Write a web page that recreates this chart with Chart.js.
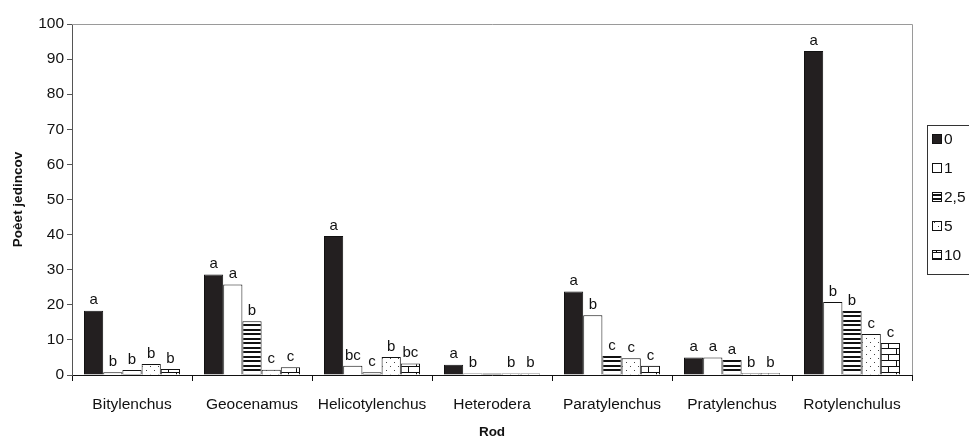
<!DOCTYPE html>
<html>
<head>
<meta charset="utf-8">
<script src="https://cdn.jsdelivr.net/npm/chart.js@4/dist/chart.umd.min.js"></script>
<style>
body{margin:0;background:#fff;}
canvas{display:block;}
</style>
</head>
<body>
<canvas id="c" width="969" height="440"></canvas>
<script>
// data
let categories = ['Bitylenchus','Geocenamus','Helicotylenchus','Heterodera','Paratylenchus','Pratylenchus','Rotylenchulus'];
let seriesNames = ['0','1','2,5','5','10'];
let s0   = [18.3, 28.6, 39.6, 2.9, 23.8, 5.0, 92.3];
let s1   = [0.8, 25.8, 2.6, 0.4, 17.0, 5.0, 20.8];
let s25  = [1.4, 15.3, 0.8, 0.4, 5.4, 4.3, 18.2];
let s5   = [3.1, 1.5, 5.1, 0.4, 4.8, 0.5, 11.7];
let s10  = [1.7, 2.2, 3.3, 0.4, 2.6, 0.5, 9.1];
let l0   = ['a','a','a','a','a','a','a'];
let l1   = ['b','a','bc','b','b','a','b'];
let l25  = ['b','b','c','','c','a','b'];
let l5   = ['b','c','b','b','c','b','c'];
let l10  = ['b','c','bc','b','c','b','c'];
let yTicks = [0,10,20,30,40,50,60,70,80,90,100];

function makePattern(w, h, draw){
    let cv = document.createElement('canvas');
    cv.width = w; cv.height = h;
    let g = cv.getContext('2d');
    g.fillStyle = '#fff';
    g.fillRect(0,0,w,h);
    g.fillStyle = '#111';
    draw(g);
    return document.getElementById('c').getContext('2d').createPattern(cv,'repeat');
}

let solid = '#231f20';
let white = '#ffffff';
let stripes = makePattern(4, 9, function(g){
    g.fillRect(0,0,4,2);
    g.fillRect(0,5,4,2);
});
let dots = makePattern(8, 8, function(g){
    g.fillStyle = '#444';
    g.fillRect(2,2,1,1);
    g.fillRect(6,6,1,1);
});
let bricks = makePattern(16, 12, function(g){
    g.fillRect(0,0,16,1);
    g.fillRect(0,6,16,1);
    g.fillRect(0,0,1,6);
    g.fillRect(8,6,1,6);
});

let fills = [solid, white, stripes, dots, bricks];
let values = [s0, s1, s25, s5, s10];
let letters = [l0, l1, l25, l5, l10];

let datasets = [];
for (i in values){
    datasets.push({
        label: seriesNames[i],
        data: values[i],
        backgroundColor: fills[i],
        borderColor: '#111',
        borderWidth: 1,
        borderSkipped: 'bottom',
        categoryPercentage: 0.8,
        barPercentage: 1.0,
        letters: letters[i]
    });
}

// letters above bars
let letterPlugin = {
    id: 'letters',
    afterDatasetsDraw(chart){
        let ctx = chart.ctx;
        ctx.save();
        ctx.fillStyle = '#111';
        ctx.font = '15px "Liberation Sans", Arial, sans-serif';
        ctx.textAlign = 'center';
        ctx.textBaseline = 'bottom';
        chart.data.datasets.forEach(function(ds, di){
            let meta = chart.getDatasetMeta(di);
            meta.data.forEach(function(bar, j){
                let t = ds.letters[j];
                if (t) ctx.fillText(t, bar.x, bar.y - 3);
            });
        });
        ctx.restore();
    }
};

// grey frame on top and right + legend box
let framePlugin = {
    id: 'frame',
    afterDraw(chart){
        let ctx = chart.ctx;
        let a = chart.chartArea;
        ctx.save();
        ctx.strokeStyle = '#9a9a9a';
        ctx.lineWidth = 1;
        ctx.beginPath();
        ctx.moveTo(a.left, a.top + 0.5);
        ctx.lineTo(a.right + 0.5, a.top + 0.5);
        ctx.lineTo(a.right + 0.5, a.bottom);
        ctx.stroke();

        // legend
        let lx = a.right + 15, ly = 125, lw = 48, lh = 149;
        ctx.strokeStyle = '#333';
        ctx.strokeRect(lx + 0.5, ly + 0.5, lw, lh);
        ctx.font = '15.5px "Liberation Sans", Arial, sans-serif';
        ctx.textBaseline = 'middle';
        ctx.textAlign = 'left';
        chart.data.datasets.forEach(function(ds, k){
            let cy = ly + 14 + k * 29;
            ctx.fillStyle = ds.backgroundColor;
            ctx.fillRect(lx + 5, cy - 5, 10, 10);
            ctx.strokeStyle = '#111';
            ctx.strokeRect(lx + 5.5, cy - 4.5, 9, 9);
            ctx.fillStyle = '#111';
            ctx.fillText(ds.label, lx + 17, cy + 1);
        });
        ctx.restore();
    }
};

let ctx = document.getElementById('c').getContext('2d');
let chart = new Chart(ctx, {
    type: 'bar',
    data: {
        labels: categories,
        datasets: datasets
    },
    options: {
        responsive: false,
        animation: false,
        devicePixelRatio: 1,
        layout: { padding: { top: 24, right: 57, left: 0, bottom: 0 } },
        plugins: {
            legend: { display: false },
            tooltip: { enabled: false }
        },
        scales: {
            x: {
                grid: { offset: true, drawOnChartArea: false, drawTicks: true, tickLength: 6, color: '#111' },
                border: { color: '#111', width: 1 },
                ticks: { color: '#111', font: { family: 'Liberation Sans', size: 15.5 }, padding: 14, maxRotation: 0 },
                title: { display: true, text: 'Rod', color: '#111', font: { family: 'Liberation Sans', size: 13.5, weight: 'bold' }, padding: { top: 4, bottom: 0 } },
                afterFit: function(s){ s.height = 65; }
            },
            y: {
                min: 0, max: 100,
                afterBuildTicks: function(s){ s.ticks = yTicks.map(function(v){ return { value: v }; }); },
                grid: { drawOnChartArea: false, drawTicks: true, tickLength: 5, color: '#555' },
                border: { color: '#555', width: 1 },
                ticks: { color: '#111', font: { family: 'Liberation Sans', size: 15.5 }, padding: 3 },
                title: { display: true, text: 'Poèet jedincov', color: '#111', font: { family: 'Liberation Sans', size: 13.5, weight: 'bold' }, padding: { top: 10, bottom: 0 } },
                afterFit: function(s){ s.width = 72; }
            }
        }
    },
    plugins: [letterPlugin, framePlugin]
});
</script>
</body>
</html>
